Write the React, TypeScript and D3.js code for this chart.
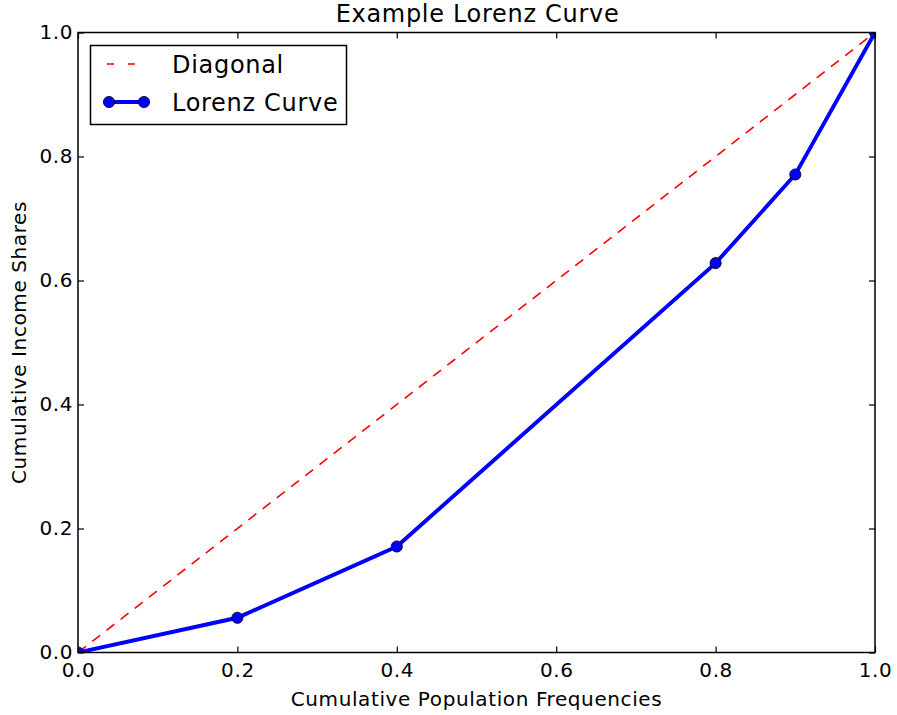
import React, { useEffect, useRef } from "react";
import * as d3 from "d3";

// cumulative population frequencies (x) and income shares (y)
const popShares = [0, 0.2, 0.4, 0.8, 0.9, 1.0];
const incomeShares = [0, 0.056, 0.171, 0.628, 0.771, 1.0];
const diagonalPts = [0, 1];
const tickValues = [0, 0.2, 0.4, 0.6, 0.8, 1.0];

const titleText = "Example Lorenz Curve";
const xLabel = "Cumulative Population Frequencies";
const yLabel = "Cumulative Income Shares";
const legendLabels = ["Diagonal", "Lorenz Curve"];

const W = 897;
const H = 715;
const left = 78;
const right = 875;
const top = 32.5;
const bottom = 652.5;
const FONT = "'DejaVu Sans', sans-serif";

const App = () => {
  const ref = useRef<SVGSVGElement>(null);

  useEffect(() => {
    const svg = d3.select(ref.current);
    svg.selectAll("*").remove();

    const x = d3.scaleLinear().domain([0, 1]).range([left, right]);
    const y = d3.scaleLinear().domain([0, 1]).range([bottom, top]);
    const fmt = d3.format(".1f");

    svg
      .append("defs")
      .append("clipPath")
      .attr("id", "plotClip")
      .append("rect")
      .attr("x", left)
      .attr("y", top)
      .attr("width", right - left)
      .attr("height", bottom - top);

    // axes with inward ticks on all four sides
    const styleAxis = (g: any) => {
      g.select(".domain").remove();
      g.selectAll("line").attr("stroke", "#000").attr("stroke-width", 1.2);
      g.selectAll("text")
        .attr("fill", "#000")
        .style("font-family", FONT)
        .style("font-size", "20px")
        .style("letter-spacing", "0.6px");
    };

    svg
      .append("g")
      .attr("transform", `translate(0,${bottom})`)
      .call(d3.axisBottom(x).tickValues(tickValues).tickFormat(fmt as any).tickSize(-6).tickPadding(10))
      .call(styleAxis);
    svg
      .append("g")
      .attr("transform", `translate(${left},0)`)
      .call(d3.axisLeft(y).tickValues(tickValues).tickFormat(fmt as any).tickSize(-6).tickPadding(5))
      .call(styleAxis);
    svg
      .append("g")
      .attr("transform", `translate(0,${top})`)
      .call(d3.axisTop(x).tickValues(tickValues).tickFormat(() => "").tickSize(-6))
      .call(styleAxis);
    svg
      .append("g")
      .attr("transform", `translate(${right},0)`)
      .call(d3.axisRight(y).tickValues(tickValues).tickFormat(() => "").tickSize(-6))
      .call(styleAxis);

    const plot = svg.append("g").attr("clip-path", "url(#plotClip)");

    // diagonal
    const diag = d3
      .line<number>()
      .x((d) => x(d))
      .y((d) => y(d));
    plot
      .append("path")
      .attr("d", diag(diagonalPts))
      .attr("fill", "none")
      .attr("stroke", "#ff0000")
      .attr("stroke-width", 1.6)
      .attr("stroke-dasharray", "10,8");

    // lorenz curve
    const lorenz = d3
      .line<number>()
      .x((d, i) => x(popShares[i]))
      .y((d) => y(d));
    plot
      .append("path")
      .attr("d", lorenz(incomeShares))
      .attr("fill", "none")
      .attr("stroke", "#0000ff")
      .attr("stroke-width", 3.9);
    plot
      .selectAll("circle")
      .data(incomeShares)
      .join("circle")
      .attr("cx", (d, i) => x(popShares[i]))
      .attr("cy", (d) => y(d))
      .attr("r", 5.6)
      .attr("fill", "#0000ff")
      .attr("stroke", "#000")
      .attr("stroke-width", 0.8);

    // frame
    svg
      .append("rect")
      .attr("x", left)
      .attr("y", top)
      .attr("width", right - left)
      .attr("height", bottom - top)
      .attr("fill", "none")
      .attr("stroke", "#000")
      .attr("stroke-width", 1.5);

    // legend
    const lg = svg.append("g");
    lg.append("rect")
      .attr("x", 90.5)
      .attr("y", 45.5)
      .attr("width", 256)
      .attr("height", 79)
      .attr("fill", "#fff")
      .attr("stroke", "#000")
      .attr("stroke-width", 1.5);
    lg.append("line")
      .attr("x1", 107)
      .attr("x2", 143)
      .attr("y1", 64)
      .attr("y2", 64)
      .attr("stroke", "#ff0000")
      .attr("stroke-width", 1.6)
      .attr("stroke-dasharray", "7,14");
    lg.append("line")
      .attr("x1", 109)
      .attr("x2", 144)
      .attr("y1", 102)
      .attr("y2", 102)
      .attr("stroke", "#0000ff")
      .attr("stroke-width", 3.9);
    lg.selectAll("circle")
      .data([109, 144])
      .join("circle")
      .attr("cx", (d) => d)
      .attr("cy", 102)
      .attr("r", 5.6)
      .attr("fill", "#0000ff")
      .attr("stroke", "#000")
      .attr("stroke-width", 0.8);
    lg.selectAll("text")
      .data(legendLabels)
      .join("text")
      .attr("x", 172)
      .attr("y", (d, i) => 73 + i * 38)
      .text((d) => d)
      .style("font-family", FONT)
      .style("font-size", "24px")
      .style("letter-spacing", "0.7px");

    // title & labels
    svg
      .append("text")
      .attr("x", (left + right) / 2 + 1)
      .attr("y", 22)
      .attr("text-anchor", "middle")
      .text(titleText)
      .style("font-family", FONT)
      .style("font-size", "24px")
      .style("letter-spacing", "0.7px");
    svg
      .append("text")
      .attr("x", (left + right) / 2)
      .attr("y", 706)
      .attr("text-anchor", "middle")
      .text(xLabel)
      .style("font-family", FONT)
      .style("font-size", "20px")
      .style("letter-spacing", "0.6px");
    svg
      .append("text")
      .attr("transform", `translate(26,${(top + bottom) / 2}) rotate(-90)`)
      .attr("text-anchor", "middle")
      .text(yLabel)
      .style("font-family", FONT)
      .style("font-size", "20px")
      .style("letter-spacing", "0.6px");
  }, []);

  return (
    <svg
      ref={ref}
      width={W}
      height={H}
      style={{ position: "absolute", left: 0, top: 0, background: "#fff" }}
    />
  );
};

export default App;
